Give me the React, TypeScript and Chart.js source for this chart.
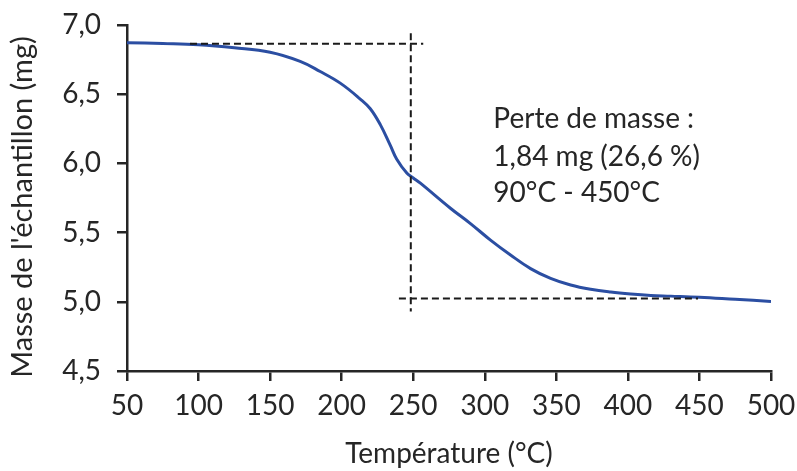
import React, { useEffect, useRef } from "react";
import { Chart, registerables } from "chart.js";

Chart.register(...registerables);

// Curve data (temperature °C, mass mg)
const temperatures = [50, 75, 100, 125, 150, 171, 185, 199, 213, 220, 227, 234, 238.5, 245.5, 250, 255, 276, 290, 304, 318, 332, 346, 360, 374, 388, 402, 416, 430, 450, 475, 500];
const masses = [6.872, 6.866, 6.857, 6.835, 6.803, 6.737, 6.664, 6.58, 6.465, 6.395, 6.28, 6.13, 6.03, 5.93, 5.895, 5.857, 5.676, 5.565, 5.446, 5.338, 5.24, 5.169, 5.121, 5.09, 5.07, 5.056, 5.046, 5.041, 5.033, 5.018, 5.003];

// Dashed guide lines
const upperGuideX = [94, 257];
const upperGuideY = [6.865, 6.865];
const verticalGuideX = [248.3, 248.3];
const verticalGuideY = [6.94, 4.93];
const lowerGuideX = [240, 449];
const lowerGuideY = [5.024, 5.024];

// Annotation
const annotationLines = ["Perte de masse :", "1,84 mg (26,6 %)", "90°C - 450°C"];
const annotationX = 306;
const annotationY = [6.257, 5.984, 5.724];

const xTicks = [50, 100, 150, 200, 250, 300, 350, 400, 450, 500];
const yTicks = [4.5, 5.0, 5.5, 6.0, 6.5, 7.0];
const xTitle = "Température (°C)";
const yTitle = "Masse de l'échantillon (mg)";

const FONT = "Lato, 'Open Sans', sans-serif";
const TEXT = "#262626";

const toPts = (xs: number[], ys: number[]) => xs.map((x, i) => ({ x, y: ys[i] }));

export default function App() {
  const ref = useRef<HTMLCanvasElement | null>(null);
  useEffect(() => {
    document.body.style.margin = "0";
    const canvas = ref.current!;
    const textPlugin = {
      id: "texts",
      afterDatasetsDraw(chart: any) {
        const { ctx, scales } = chart;
        ctx.save();
        ctx.fillStyle = TEXT;
        ctx.font = `28px ${FONT}`;
        ctx.textAlign = "left";
        ctx.textBaseline = "alphabetic";
        annotationLines.forEach((t, i) => {
          ctx.fillText(t, scales.x.getPixelForValue(annotationX), scales.y.getPixelForValue(annotationY[i]));
        });
        ctx.restore();
        // y-axis title
        ctx.save();
        ctx.fillStyle = TEXT;
        ctx.font = `29px ${FONT}`;
        ctx.textAlign = "center";
        ctx.textBaseline = "middle";
        ctx.translate(22.5, 207);
        ctx.rotate(-Math.PI / 2);
        ctx.fillText(yTitle, 0, 0);
        ctx.restore();
      },
    };
    const dashed = {
      borderColor: "#1a1a1a",
      borderWidth: 2,
      borderDash: [7, 4],
      pointRadius: 0,
      fill: false,
      tension: 0,
    };
    const noPad = (s: any) => {
      s.paddingTop = 0;
      s.paddingBottom = 0;
      s.paddingLeft = 0;
      s.paddingRight = 0;
    };
    const chart = new Chart(canvas, {
      type: "line",
      data: {
        datasets: [
          { ...dashed, data: toPts(upperGuideX, upperGuideY) },
          { ...dashed, data: toPts(verticalGuideX, verticalGuideY) },
          { ...dashed, data: toPts(lowerGuideX, lowerGuideY) },
          {
            data: toPts(temperatures, masses),
            borderColor: "#2B4EA2",
            borderWidth: 3,
            pointRadius: 0,
            tension: 0.4,
            fill: false,
          },
        ],
      },
      options: {
        animation: false,
        responsive: false,
        events: [],
        layout: { padding: { top: 25, right: 26, bottom: 0, left: 0 } },
        plugins: { legend: { display: false }, tooltip: { enabled: false } },
        scales: {
          x: {
            type: "linear",
            min: 50,
            max: 500,
            afterFit: (s: any) => { s.height = 100; noPad(s); },
            afterBuildTicks: (s: any) => { s.ticks = xTicks.map((v) => ({ value: v })); },
            ticks: { color: TEXT, font: { family: FONT, size: 28 }, padding: 8, maxRotation: 0 },
            grid: { drawOnChartArea: false, drawTicks: true, tickLength: 10, color: TEXT, lineWidth: 2.5 },
            border: { color: TEXT, width: 2.5 },
            title: { display: true, text: xTitle, color: TEXT, font: { family: FONT, size: 28 }, padding: { top: 0, bottom: 0 } },
          },
          y: {
            min: 4.5,
            max: 7.0,
            afterFit: (s: any) => { s.width = 127; noPad(s); },
            afterBuildTicks: (s: any) => { s.ticks = yTicks.map((v) => ({ value: v })); },
            ticks: {
              color: TEXT,
              font: { family: FONT, size: 28 },
              padding: 16,
              callback: (v: any) => Number(v).toFixed(1).replace(".", ","),
            },
            grid: { drawOnChartArea: false, drawTicks: true, tickLength: 10, color: TEXT, lineWidth: 2.5 },
            border: { color: TEXT, width: 2.5 },
            title: { display: false },
          },
        },
      },
      plugins: [textPlugin],
    } as any);
    return () => chart.destroy();
  }, []);
  return (
    <div style={{ position: "fixed", left: 0, top: 0, width: 797, height: 471 }}>
      <canvas ref={ref} width={797} height={471} style={{ width: 797, height: 471 }} />
    </div>
  );
}
